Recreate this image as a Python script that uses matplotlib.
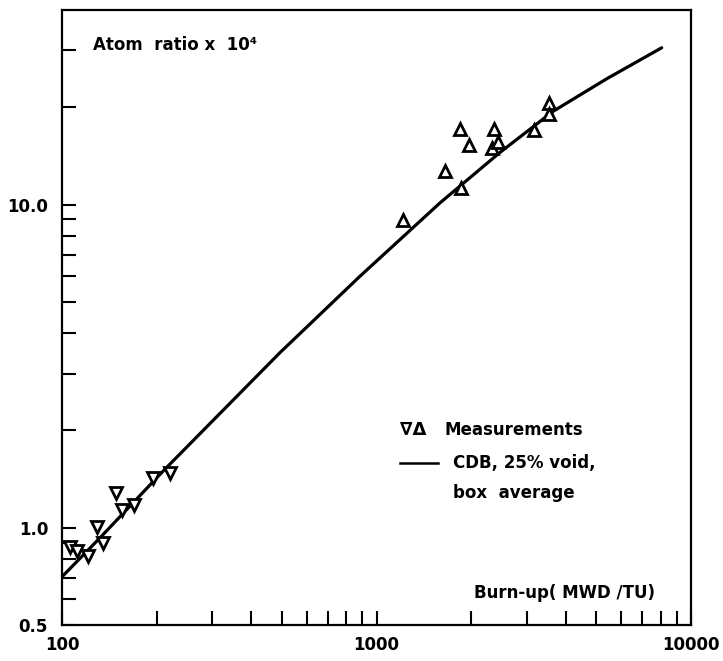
import matplotlib
matplotlib.use('Agg')
import matplotlib.pyplot as plt
from matplotlib.ticker import FixedLocator, NullFormatter
from matplotlib.lines import Line2D

# calculated curve: burn-up (MWD/TU) vs atom ratio x 1e4
calc_burnup = [100, 132, 210, 493, 886, 1592, 2470, 3649, 5394, 8069]
calc_ratio = [0.705, 0.93, 1.50, 3.48, 6.0, 10.12, 14.5, 19.45, 24.5, 30.56]

# measurements, low burn-up set (down triangles)
low_burnup = [106, 112, 121, 129, 135, 148, 155, 169, 195, 220]
low_ratio = [0.873, 0.849, 0.819, 1.007, 0.899, 1.283, 1.137, 1.178, 1.428, 1.480]

# measurements, high burn-up set (up triangles)
high_burnup = [1211, 1651, 1852, 1843, 1968, 2364, 2324, 2439, 3168, 3536, 3536]
high_ratio = [8.98, 12.68, 11.26, 17.16, 15.34, 17.16, 14.98, 15.59, 16.98, 20.65, 19.12]

x_major = [100, 1000, 10000]
x_labels = ['100', '1000', '10000']
y_major = [0.5, 1.0, 10.0]
y_labels = ['0.5', '1.0', '10.0']

plt.rcParams['font.family'] = ['DejaVu Sans']
plt.rcParams['font.weight'] = 'bold'

W, H = 723, 661
fig = plt.figure(figsize=(W / 100, H / 100), dpi=100)
ax = fig.add_axes([62 / W, 1 - 625 / H, (691 - 62) / W, (625 - 10) / H])

ax.plot(calc_burnup, calc_ratio, color='black', lw=2.3, solid_capstyle='round',
        solid_joinstyle='round')
ax.plot(low_burnup, low_ratio, linestyle='none', marker='v', ms=9,
        mfc='white', mec='black', mew=2.0)
ax.plot(high_burnup, high_ratio, linestyle='none', marker='^', ms=9,
        mfc='white', mec='black', mew=2.0)

ax.set_xscale('log')
ax.set_yscale('log')
ax.set_xlim(100, 10000)
ax.set_ylim(0.5, 40)

ax.xaxis.set_major_locator(FixedLocator(x_major))
ax.xaxis.set_minor_locator(FixedLocator([k * 10 ** e for e in (2, 3) for k in range(2, 10)]))
ax.set_xticklabels(x_labels)
ax.xaxis.set_minor_formatter(NullFormatter())

ax.yaxis.set_major_locator(FixedLocator(y_major))
ax.yaxis.set_minor_locator(FixedLocator([0.6, 0.7, 0.8, 0.9, 2, 3, 4, 5, 6, 7, 8, 9, 20, 30]))
ax.set_yticklabels(y_labels)
ax.yaxis.set_minor_formatter(NullFormatter())

ax.tick_params(which='both', direction='in', length=10, width=1.5,
               top=False, right=False, labelsize=12)
ax.tick_params(axis='x', which='both', pad=8)
ax.tick_params(axis='y', which='both', pad=10)
for s in ax.spines.values():
    s.set_linewidth(1.6)

def px(x, y):
    return x / W, 1 - y / H

fig.text(*px(93, 45), 'Atom  ratio x  10\u2074', fontsize=12, va='center', ha='left')
fig.text(*px(655, 593), 'Burn-up( MWD /TU)', fontsize=12, va='center', ha='right')

# hand-drawn key
fig.text(*px(400, 430), '\u2207\u0394', fontsize=13, va='center', ha='left')
fig.text(*px(444, 430), 'Measurements', fontsize=12, va='center', ha='left')
fig.add_artist(Line2D([400 / W, 438 / W], [1 - 463 / H, 1 - 463 / H],
                      color='black', lw=1.8, transform=fig.transFigure))
fig.text(*px(453, 463), 'CDB, 25% void,', fontsize=12, va='center', ha='left')
fig.text(*px(453, 493), 'box  average', fontsize=12, va='center', ha='left')

fig.savefig('out.png', dpi=100)
